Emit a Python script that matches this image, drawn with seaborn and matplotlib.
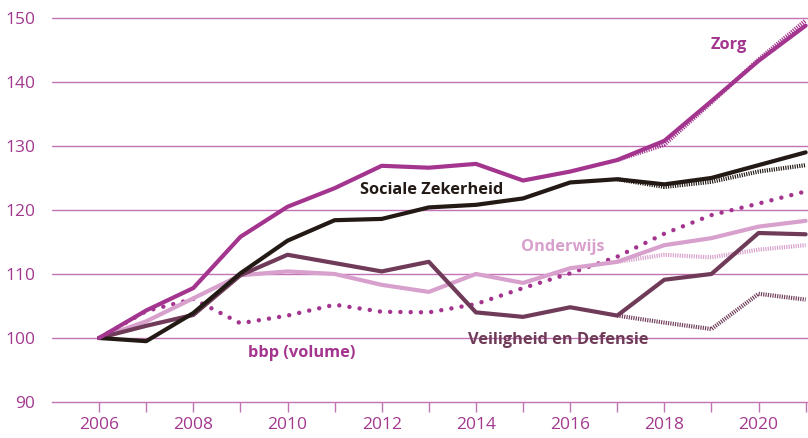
import matplotlib
matplotlib.use("Agg")
import matplotlib.pyplot as plt
import seaborn as sns
import numpy as np

years = list(range(2006, 2022))
proj_years = list(range(2017, 2022))

zorg = [100, 104.3, 107.8, 115.8, 120.5, 123.4, 126.9, 126.6, 127.2, 124.6, 126.0, 127.8, 130.8, 137.0, 143.3, 148.8]
zorg_proj = [127.8, 130.2, 136.8, 143.5, 149.6]

sociale = [100, 99.5, 103.9, 110.1, 115.2, 118.4, 118.6, 120.4, 120.8, 121.8, 124.3, 124.8, 124.0, 125.0, 127.0, 129.0]
sociale_proj = [124.8, 123.6, 124.4, 126.0, 127.0]

onderwijs = [100, 102.6, 106.2, 109.8, 110.4, 110.0, 108.3, 107.2, 110.0, 108.6, 110.9, 111.9, 114.5, 115.6, 117.4, 118.3]
onderwijs_proj = [111.9, 113.0, 112.6, 113.8, 114.5]

veiligheid = [100, 101.9, 103.6, 109.8, 113.0, 111.7, 110.4, 111.9, 104.0, 103.3, 104.8, 103.5, 109.1, 110.0, 116.4, 116.2]
veiligheid_proj = [103.5, 102.4, 101.4, 106.9, 106.0]

bbp = [100, 104.2, 106.1, 102.3, 103.5, 105.2, 104.1, 104.0, 105.3, 107.8, 110.1, 112.7, 116.3, 119.2, 121.0, 122.9]

labels = ["Zorg", "Sociale Zekerheid", "Onderwijs", "bbp (volume)", "Veiligheid en Defensie"]
label_x = [2019.37, 2013.05, 2015.85, 2010.31, 2015.75]
label_y = [145.8, 123.1, 114.2, 97.7, 99.7]

c_zorg = "#a3358f"
c_soc = "#231a15"
c_ond = "#d8a0cc"
c_vei = "#6f3b58"
c_bbp = "#a3358f"
c_grid = "#c273b3"
c_tick = "#a3388f"

sns.set_theme(style="white")
plt.rcParams['font.family'] = ['Open Sans', 'DejaVu Sans']

fig = plt.figure(figsize=(8.08, 4.38), dpi=100)
ax = fig.add_axes([52/808, 1-402/438, 1-52/808, 402/438])

lw = 3.0
stripe = (0, (0.28, 0.28))

for vals, c in [(zorg_proj, c_zorg), (sociale_proj, c_soc), (onderwijs_proj, c_ond), (veiligheid_proj, c_vei)]:
    sns.lineplot(x=proj_years, y=vals, ax=ax, color=c, linewidth=lw, linestyle=stripe, zorder=3)

sns.lineplot(x=years, y=bbp, ax=ax, color=c_bbp, linewidth=3.2, linestyle=(0, (0.01, 2.3)),
             dash_capstyle="round", zorder=4)
sns.lineplot(x=years, y=onderwijs, ax=ax, color=c_ond, linewidth=lw, zorder=4)
sns.lineplot(x=years, y=veiligheid, ax=ax, color=c_vei, linewidth=lw, zorder=5)
sns.lineplot(x=years, y=sociale, ax=ax, color=c_soc, linewidth=lw, zorder=5)
sns.lineplot(x=years, y=zorg, ax=ax, color=c_zorg, linewidth=lw, zorder=6)

label_colors = [c_zorg, c_soc, c_ond, c_bbp, c_vei]
for t, x, y, c in zip(labels, label_x, label_y, label_colors):
    ax.text(x, y, t, color=c, fontsize=11.8, fontweight="bold", ha="center", va="center", zorder=7)

ax.set_xlim(2005, 2021.05)
ax.set_ylim(90, 152.8)
ax.set_yticks([90, 100, 110, 120, 130, 140, 150])
ax.set_xticks(list(range(2006, 2021, 2)))
ax.set_xticks(years, minor=True)
ax.set_xticklabels([str(y) for y in range(2006, 2021, 2)])

for y in [100, 110, 120, 130, 140, 150]:
    ax.axhline(y, color=c_grid, linewidth=1.0, zorder=1)

for s in ["top", "right", "left"]:
    ax.spines[s].set_visible(False)
ax.spines["bottom"].set_color(c_grid)
ax.spines["bottom"].set_linewidth(1.0)

ax.tick_params(axis="x", which="both", direction="out", length=7, width=1, color=c_grid,
               labelcolor=c_tick, labelsize=12.5, pad=4, bottom=True)
ax.tick_params(axis="y", length=0, labelcolor=c_tick, labelsize=12.5, pad=12)
ax.set_xlabel("")
ax.set_ylabel("")
ax.patch.set_alpha(0)

fig.savefig("out.png", dpi=100)
